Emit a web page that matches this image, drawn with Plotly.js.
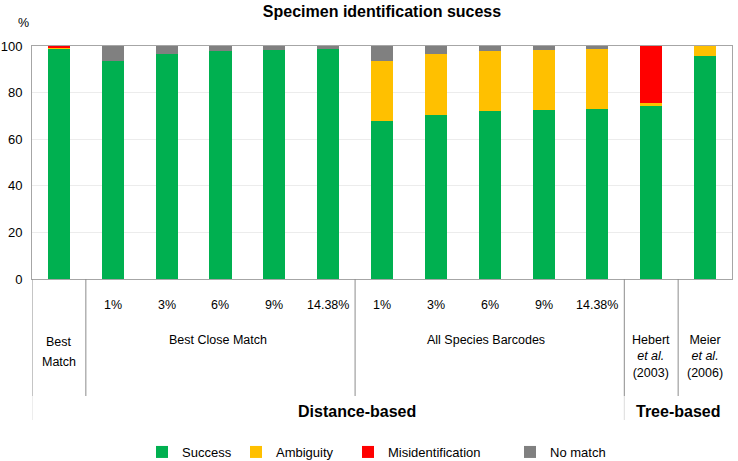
<!DOCTYPE html>
<html>
<head>
<meta charset="utf-8">
<script src="https://cdn.plot.ly/plotly-3.0.1.min.js"></script>
<style>html,body{margin:0;padding:0;background:#fff;}#chart{width:738px;height:461px;}</style>
</head>
<body>
<div id="chart"></div>
<script>
// ---- data ----
const categories = ['Best Match','BCM 1%','BCM 3%','BCM 6%','BCM 9%','BCM 14.38%',
  'ASB 1%','ASB 3%','ASB 6%','ASB 9%','ASB 14.38%','Hebert et al. (2003)','Meier et al. (2006)'];
const success   = [98.8, 93.6, 96.6, 97.9, 98.3, 98.6, 67.8, 70.5, 72.2, 72.4, 72.8, 74.4, 95.7];
const ambiguity = [0.5, 0, 0, 0, 0, 0, 25.8, 26.1, 25.7, 25.9, 25.8, 1.0, 4.3];
const misid     = [0.7, 0, 0, 0, 0, 0, 0, 0, 0, 0, 0, 24.6, 0];
const nomatch   = [0, 6.4, 3.4, 2.1, 1.7, 1.4, 6.4, 3.4, 2.1, 1.7, 1.4, 0, 0];
const seriesNames = ['Success','Ambiguity','Misidentification','No match'];
const thresholdLabels = ['1%','3%','6%','9%','14.38%'];
const methodLabels = ['Best','Match','Best Close Match','All Species Barcodes',
  'Hebert<br><i>et al.</i><br>(2003)','Meier<br><i>et al.</i><br>(2006)'];
const familyLabels = ['Distance-based','Tree-based'];

// ---- layout helpers ----
const FONT = 'Liberation Sans, Arial, Helvetica, sans-serif';
const plotTop = 46, plotBottom = 279, plotH = plotBottom - plotTop;
const py = p => (plotBottom - p) / plotH; // pixel row -> paper y

const colors = ['#00B050','#FFC000','#FF0000','#808080'];
const values = [success, ambiguity, misid, nomatch];
const legendIds = ['legend','legend2','legend3','legend4'];
const legendX = [142, 236, 348, 510];

const traces = values.map((v, i) => ({
  type: 'bar', x: categories, y: v, name: seriesNames[i],
  marker: {color: colors[i], line: {width: 0}},
  legend: legendIds[i], hoverinfo: 'skip'
}));

const annotations = [];
// threshold labels
[1,2,3,4,5,6,7,8,9,10].forEach((ci, k) => {
  annotations.push({x: ci, xref: 'x', y: py(305), yref: 'paper', text: thresholdLabels[k % 5],
    showarrow: false, font: {size: 12.5, color: '#000', family: FONT}, yanchor: 'middle'});
});
// method labels
const methodPos = [[0, 342], [0, 362], [2.95, 340], [7.94, 340], [11, 356], [12, 356]];
methodLabels.forEach((t, k) => {
  annotations.push({x: methodPos[k][0], xref: 'x', y: py(methodPos[k][1]), yref: 'paper', text: t,
    showarrow: false, font: {size: 12.5, color: '#000', family: FONT}, yanchor: 'middle', align: 'center'});
});
// family labels
const famPos = [5.535, 11.5];
familyLabels.forEach((t, k) => {
  annotations.push({x: famPos[k], xref: 'x', y: py(411), yref: 'paper', text: '<b>' + t + '</b>',
    showarrow: false, font: {size: 16, color: '#000', family: FONT}, yanchor: 'middle'});
});
// % label
annotations.push({x: (16 - 32) / 700, xref: 'paper', y: py(23), yref: 'paper', text: '%',
  showarrow: false, font: {size: 12.5, color: '#000', family: FONT}, yanchor: 'middle'});

// separators
const shapes = [];
[-0.5, 0.5, 5.5, 10.5, 11.5].forEach(b => {
  shapes.push({type: 'line', xref: 'x', yref: 'paper', x0: b, x1: b, y0: py(279), y1: py(396),
    line: {color: '#8c8c8c', width: 1}});
});
[-0.5, 10.5].forEach(b => {
  shapes.push({type: 'line', xref: 'x', yref: 'paper', x0: b, x1: b, y0: py(396), y1: py(420),
    line: {color: '#dcdcdc', width: 1}});
});

const layout = {
  width: 738, height: 461,
  margin: {l: 32, r: 6, t: plotTop, b: 461 - plotBottom, pad: 0},
  paper_bgcolor: '#fff', plot_bgcolor: '#fff',
  font: {family: FONT, size: 13, color: '#000'},
  title: {text: '<b>Specimen identification sucess</b>', x: 0.5, xref: 'paper',
    y: 1 - 11 / 461, yref: 'container', yanchor: 'middle', font: {size: 16, family: FONT, color: '#000'}},
  barmode: 'stack', bargap: 0.59,
  xaxis: {type: 'category', range: [-0.5, 12.5], showticklabels: false, ticks: '',
    showline: true, linecolor: '#a6a6a6', linewidth: 1, mirror: true, showgrid: false,
    zeroline: false, fixedrange: true},
  yaxis: {range: [0, 100], tickvals: [0, 20, 40, 60, 80, 100], ticks: '', ticklabelstandoff: 6,
    showline: true, linecolor: '#a6a6a6', linewidth: 1, mirror: true,
    showgrid: true, gridcolor: '#ececec', gridwidth: 1, zeroline: false,
    tickfont: {size: 13, family: FONT, color: '#000'}, fixedrange: true},
  annotations: annotations,
  shapes: shapes,
  showlegend: true
};
legendIds.forEach((id, i) => {
  layout[id] = {x: legendX[i] / 738, xref: 'container', xanchor: 'left',
    y: (461 - 452) / 461, yref: 'container', yanchor: 'middle',
    orientation: 'h', bgcolor: 'rgba(0,0,0,0)', borderwidth: 0,
    font: {size: 13, family: FONT, color: '#000'}};
});

Plotly.newPlot('chart', traces, layout, {displayModeBar: false, staticPlot: true});
</script>
</body>
</html>
